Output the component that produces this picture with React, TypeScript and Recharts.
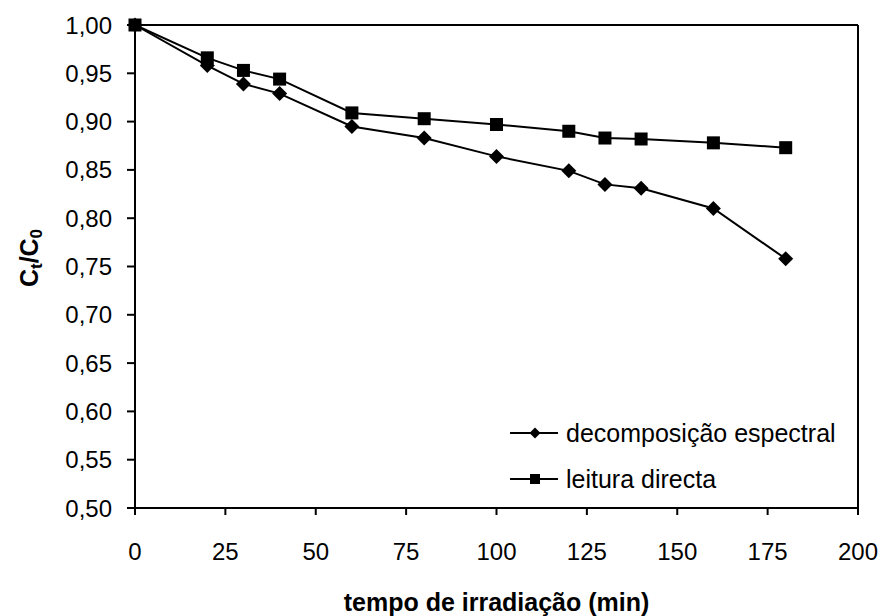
import React from 'react';
import { LineChart, Line, XAxis, YAxis, Legend, Label, ReferenceLine } from 'recharts';

// tempo de irradiação (min)
const tempo = [0, 20, 30, 40, 60, 80, 100, 120, 130, 140, 160, 180];
const decomposicao = [1.0, 0.958, 0.939, 0.929, 0.895, 0.883, 0.864, 0.849, 0.835, 0.831, 0.81, 0.758];
const leitura = [1.0, 0.966, 0.953, 0.944, 0.909, 0.903, 0.897, 0.89, 0.883, 0.882, 0.878, 0.873];

const xTicks = [0, 25, 50, 75, 100, 125, 150, 175, 200];
const yTicks = [0.5, 0.55, 0.6, 0.65, 0.7, 0.75, 0.8, 0.85, 0.9, 0.95, 1.0];

const data = tempo.map((t, i) => ({ t, decomposicao: decomposicao[i], leitura: leitura[i] }));

const FONT = '"Liberation Sans", Arial, sans-serif';

const diamondPath = (cx: number, cy: number, r: number) =>
  `M${cx},${cy - r}L${cx + r},${cy}L${cx},${cy + r}L${cx - r},${cy}Z`;

const DiamondDot = (props: any) => {
  const { cx, cy, index } = props;
  if (cx == null || cy == null) return <g key={`dm-${index}`} />;
  return <path key={`dm-${index}`} d={diamondPath(cx, cy, 7.5)} fill="#000" />;
};

const SquareDot = (props: any) => {
  const { cx, cy, index } = props;
  if (cx == null || cy == null) return <g key={`sq-${index}`} />;
  return <rect key={`sq-${index}`} x={cx - 6.5} y={cy - 6.5} width={13} height={13} fill="#000" />;
};

const legendItems = [
  { name: 'decomposição espectral', shape: 'diamond' },
  { name: 'leitura directa', shape: 'square' },
];

function LegendContent() {
  return (
    <div style={{ fontFamily: FONT, fontSize: 25, color: '#000' }}>
      {legendItems.map(item => (
        <div key={item.name} style={{ display: 'flex', alignItems: 'center', height: 46 }}>
          <svg width={48} height={20} style={{ display: 'block' }}>
            <line x1={0} y1={10} x2={48} y2={10} stroke="#000" strokeWidth={2} />
            {item.shape === 'diamond' ? (
              <path d={diamondPath(25, 10, 5.5)} fill="#000" />
            ) : (
              <rect x={20} y={5} width={10} height={10} fill="#000" />
            )}
          </svg>
          <span style={{ marginLeft: 8, whiteSpace: 'nowrap' }}>{item.name}</span>
        </div>
      ))}
    </div>
  );
}

const YTitle = () => (
  <text
    transform="translate(38, 258) rotate(-90)"
    x={0}
    y={0}
    textAnchor="middle"
    fontFamily={FONT}
    fontSize={25}
    fontWeight="bold"
    fill="#000"
  >
    C<tspan fontSize={17} dy={4}>t</tspan>
    <tspan dy={-4}>/C</tspan>
    <tspan fontSize={17} dy={4}>0</tspan>
  </text>
);

export default function App() {
  return (
    <div style={{ position: 'absolute', left: 0, top: 0, background: '#fff', fontFamily: FONT }}>
      <LineChart width={882} height={616} data={data} margin={{ top: 25, right: 24, left: 0, bottom: 0 }}>
        <XAxis
          dataKey="t"
          type="number"
          domain={[0, 200]}
          ticks={xTicks}
          height={108}
          stroke="#000"
          strokeWidth={2}
          tickSize={7}
          tickMargin={28}
          tick={{ fill: '#000', fontSize: 24, fontFamily: FONT }}
        >
          <Label
            value="tempo de irradiação (min)"
            position="insideBottom"
            offset={5}
            style={{ fontFamily: FONT, fontSize: 25, fontWeight: 'bold', fill: '#000' }}
          />
        </XAxis>
        <YAxis
          type="number"
          domain={[0.5, 1]}
          ticks={yTicks}
          width={135}
          stroke="#000"
          strokeWidth={2}
          tickSize={8}
          tickMargin={15}
          tickFormatter={(v: number) => v.toFixed(2).replace('.', ',')}
          tick={{ fill: '#000', fontSize: 24, fontFamily: FONT }}
        >
          <Label content={<YTitle />} />
        </YAxis>
        <ReferenceLine y={1} stroke="#000" strokeWidth={2} />
        <ReferenceLine x={200} stroke="#000" strokeWidth={2} />
        <Legend
          layout="vertical"
          align="center"
          verticalAlign="middle"
          content={<LegendContent />}
          wrapperStyle={{ left: 510, top: 410, width: 360 }}
        />
        <Line
          dataKey="leitura"
          name="leitura directa"
          stroke="#000"
          strokeWidth={2}
          dot={SquareDot}
          activeDot={false}
          isAnimationActive={false}
        />
        <Line
          dataKey="decomposicao"
          name="decomposição espectral"
          stroke="#000"
          strokeWidth={2}
          dot={DiamondDot}
          activeDot={false}
          isAnimationActive={false}
        />
      </LineChart>
    </div>
  );
}
